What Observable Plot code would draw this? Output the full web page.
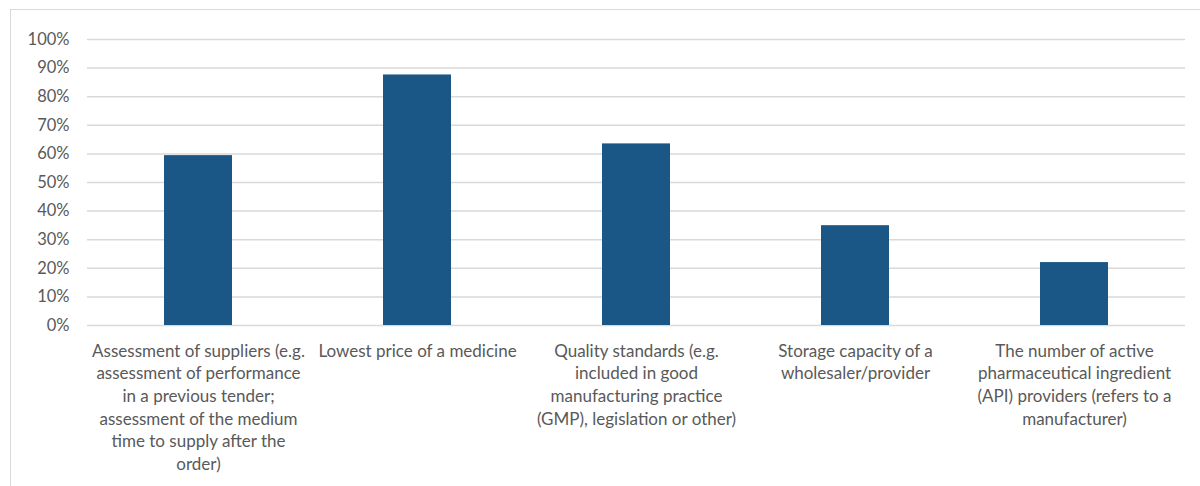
<!DOCTYPE html>
<html><head><meta charset="utf-8">
<script src="https://cdn.jsdelivr.net/npm/d3@7"></script>
<script src="https://cdn.jsdelivr.net/npm/@observablehq/plot@0.6"></script>
<style>
body{margin:0;background:#fff;}
#wrap{position:relative;width:1200px;height:486px;overflow:hidden;}
#frame{position:absolute;left:10px;top:9px;width:1300px;height:600px;border:1.5px solid #d9d9d9;box-sizing:border-box;}
#chart{position:absolute;left:0;top:0;}
</style></head>
<body>
<div id="wrap"><div id="frame"></div><div id="chart"></div></div>
<script>
const categories = [
  "Assessment of suppliers (e.g. assessment of performance in a previous tender; assessment of the medium time to supply after the order)",
  "Lowest price of a medicine",
  "Quality standards (e.g. included in good manufacturing practice (GMP), legislation or other)",
  "Storage capacity of a wholesaler/provider",
  "The number of active pharmaceutical ingredient (API) providers (refers to a manufacturer)"
];
const tickLabels = [
  "Assessment of suppliers (e.g.\nassessment of performance\nin a previous tender;\nassessment of the medium\ntime to supply after the\norder)",
  "Lowest price of a medicine",
  "Quality standards (e.g.\nincluded in good\nmanufacturing practice\n(GMP), legislation or other)",
  "Storage capacity of a\nwholesaler/provider",
  "The number of active\npharmaceutical ingredient\n(API) providers (refers to a\nmanufacturer)"
];
const values = [0.594, 0.876, 0.635, 0.349, 0.220];
const yTicks = [0, 0.1, 0.2, 0.3, 0.4, 0.5, 0.6, 0.7, 0.8, 0.9, 1.0];

const data = categories.map((c, i) => ({category: c, value: values[i]}));

const chart = Plot.plot({
  width: 1200,
  height: 486,
  marginLeft: 87,
  marginRight: 15,
  marginTop: 39,
  marginBottom: 161,
  style: {fontFamily: "Lato, 'Open Sans', sans-serif", fontSize: "17px", color: "#595959", background: "transparent"},
  x: {domain: categories, paddingInner: 0.69, paddingOuter: 0.345, label: null},
  y: {domain: [0, 1], label: null},
  marks: [
    Plot.gridY(yTicks, {stroke: "#d9d9d9", strokeOpacity: 1, strokeWidth: 1.5}),
    Plot.barY(data, {x: "category", y: "value", fill: "#1a5786"}),
    Plot.axisY(yTicks, {tickSize: 0, tickPadding: 18, tickFormat: d3.format(".0%"), label: null, fill: "#595959", fontSize: 16.5}),
    Plot.axisX({tickSize: 0, tickPadding: 15, tickFormat: d => tickLabels[categories.indexOf(d)], lineHeight: 1.335, textAnchor: "middle", label: null, fill: "#595959"})
  ]
});
document.getElementById("chart").appendChild(chart);
</script>
</body></html>
